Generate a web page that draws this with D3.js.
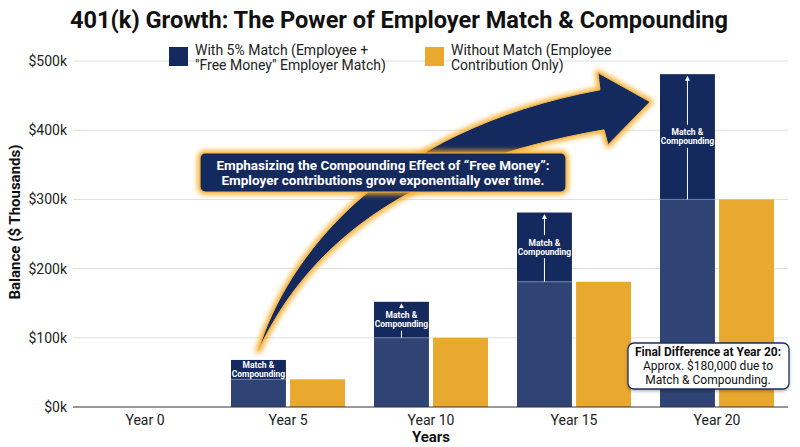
<!DOCTYPE html>
<html>
<head>
<meta charset="utf-8">
<script src="https://cdn.jsdelivr.net/npm/d3@7"></script>
<style>
  body { margin: 0; background: #fff; }
  text { font-family: Roboto, "Noto Sans", sans-serif; }
</style>
</head>
<body>
<div id="chart"></div>
<script>
// data ($ thousands)
var years = ["Year 0", "Year 5", "Year 10", "Year 15", "Year 20"];
var withMatch = [0, 68, 152, 281, 481];
var withoutMatch = [0, 40, 100, 181, 300];
var yTicks = [0, 100, 200, 300, 400, 500];
var seriesNames = ['With 5% Match (Employee +|"Free Money" Employer Match)', "Without Match (Employee|Contribution Only)"];

var width = 800, height = 447;
var navy = "#14295e", navyBase = "#2f4474", orange = "#e9a82e";

var svg = d3.select("#chart").append("svg")
  .attr("width", width)
  .attr("height", height);

var defs = svg.append("defs");
defs.append("filter").attr("id", "glow")
  .attr("x", "-20%").attr("y", "-20%").attr("width", "140%").attr("height", "140%")
  .append("feGaussianBlur").attr("stdDeviation", 2.5);
var shadow = defs.append("filter").attr("id", "shadow")
  .attr("x", "-20%").attr("y", "-20%").attr("width", "140%").attr("height", "150%");
shadow.append("feDropShadow").attr("dx", 0).attr("dy", 1.5).attr("stdDeviation", 1.5)
  .attr("flood-color", "#000").attr("flood-opacity", 0.3);
defs.append("marker").attr("id", "up")
  .attr("viewBox", "0 0 10 10").attr("refX", 5).attr("refY", 5)
  .attr("markerWidth", 5).attr("markerHeight", 5).attr("orient", "auto")
  .append("path").attr("d", "M0,0 L10,5 L0,10 Z").attr("fill", "#fff");

var x0 = d3.scaleBand().domain(years).range([73.5, 788.5]).padding(0);
var x1 = d3.scaleBand().domain([0, 1]).range([14.5, 128.5]).paddingInner(0.07);
var y = d3.scaleLinear().domain([0, 500]).range([407, 61]);

// title
svg.append("text")
  .attr("x", 399).attr("y", 28)
  .attr("text-anchor", "middle")
  .attr("font-size", 24).attr("font-weight", "bold")
  .attr("textLength", 658).attr("lengthAdjust", "spacingAndGlyphs")
  .attr("fill", "#111")
  .text("401(k) Growth: The Power of Employer Match & Compounding");

// gridlines + y labels
svg.append("g").selectAll("line").data(yTicks.filter(function(d){ return d > 0; }))
  .enter().append("line")
  .attr("x1", 73).attr("x2", 788)
  .attr("y1", function(d){ return y(d); }).attr("y2", function(d){ return y(d); })
  .attr("stroke", "#dedede").attr("stroke-width", 1);

svg.append("g").selectAll("text").data(yTicks)
  .enter().append("text")
  .attr("x", 67).attr("y", function(d){ return y(d); })
  .attr("dy", "0.35em").attr("text-anchor", "end")
  .attr("font-size", 14).attr("fill", "#222")
  .text(function(d){ return "$" + d + "k"; });

svg.append("text")
  .attr("transform", "translate(20,222) rotate(-90)")
  .attr("text-anchor", "middle")
  .attr("font-size", 15).attr("font-weight", "bold").attr("fill", "#111")
  .text("Balance ($ Thousands)");

// legend
var legend = svg.append("g");
[[169, navy], [425, orange]].forEach(function(l, i) {
  legend.append("rect").attr("x", l[0]).attr("y", 47).attr("width", 19).attr("height", 19).attr("fill", l[1]);
  var t = legend.append("text").attr("x", l[0] + 26).attr("y", 55).attr("font-size", 14).attr("fill", "#222");
  seriesNames[i].split("|").forEach(function(s, j) {
    t.append("tspan").attr("x", l[0] + 26).attr("dy", j ? 15 : 0).text(s);
  });
});

// big curved arrow (tail on Year 5 match bar, head pointing at Year 20)
var tx = x0("Year 5") + x1(0) + x1.bandwidth() / 2, ty = y(82);
var hx = x0("Year 20") + x1(0) - 10, hy = y(441);
var arrowPath = "M" + tx + "," + ty +
  " C" + (tx + 27) + "," + (ty - 90) + " " + (tx + 122) + "," + (ty - 220) + " " + (hx - 50) + "," + (hy - 12) +
  " L" + (hx - 52) + "," + (hy - 29) +
  " L" + hx + "," + hy +
  " L" + (hx - 42) + "," + (hy + 43) +
  " L" + (hx - 46) + "," + (hy + 28) +
  " C" + (hx - 250) + "," + (hy + 63) + " " + (tx + 47) + "," + (ty - 100) + " " + tx + "," + ty + " Z";
svg.append("path").attr("d", arrowPath)
  .attr("fill", "none").attr("stroke", "#f7a81b").attr("stroke-width", 6)
  .attr("stroke-linejoin", "round").attr("filter", "url(#glow)").attr("opacity", 0.9);
svg.append("path").attr("d", arrowPath)
  .attr("fill", navy).attr("stroke", "#f2b84b").attr("stroke-width", 1)
  .attr("stroke-linejoin", "round");

// bars
var groups = svg.append("g").selectAll("g").data(years)
  .enter().append("g")
  .attr("transform", function(d){ return "translate(" + x0(d) + ",0)"; });

groups.each(function(d, i) {
  var g = d3.select(this);
  var bx = x1(0), bw = x1.bandwidth();
  if (withMatch[i] > 0) {
    g.append("rect").attr("x", bx).attr("width", bw)
      .attr("y", y(withoutMatch[i])).attr("height", y(0) - y(withoutMatch[i]))
      .attr("fill", navyBase);
    g.append("rect").attr("x", bx).attr("width", bw)
      .attr("y", y(withMatch[i])).attr("height", y(withoutMatch[i]) - y(withMatch[i]))
      .attr("fill", navy);
    g.append("line").attr("x1", bx).attr("x2", bx + bw)
      .attr("y1", y(withoutMatch[i])).attr("y2", y(withoutMatch[i]))
      .attr("stroke", "#6f80a8").attr("stroke-width", 1);

    var top = y(withMatch[i]), base = y(withoutMatch[i]), mid = (top + base) / 2;
    var cx = bx + bw / 2;
    var lab = g.append("text").attr("x", cx).attr("text-anchor", "middle")
      .attr("font-size", 8.5).attr("font-weight", "bold").attr("fill", "#fff");
    lab.append("tspan").attr("x", cx).attr("y", mid - 1.5).text("Match &");
    lab.append("tspan").attr("x", cx).attr("y", mid + 7.5).text("Compounding");
    if (base - top > 30) {
      g.append("line").attr("x1", cx).attr("x2", cx)
        .attr("y1", mid - 12).attr("y2", top + 4)
        .attr("stroke", "#fff").attr("stroke-width", 1)
        .attr("marker-end", "url(#up)");
      g.append("line").attr("x1", cx).attr("x2", cx)
        .attr("y1", mid + 11).attr("y2", base)
        .attr("stroke", "#fff").attr("stroke-width", 1);
    }
  }
  if (withoutMatch[i] > 0) {
    g.append("rect").attr("x", x1(1)).attr("width", bw)
      .attr("y", y(withoutMatch[i])).attr("height", y(0) - y(withoutMatch[i]))
      .attr("fill", orange);
  }
});

// callout box over the arrow
var box = svg.append("g");
box.append("rect").attr("x", 200).attr("y", 153).attr("width", 366).attr("height", 39).attr("rx", 5)
  .attr("fill", "none").attr("stroke", "#f7a81b").attr("stroke-width", 5)
  .attr("filter", "url(#glow)");
box.append("rect").attr("x", 200).attr("y", 153).attr("width", 366).attr("height", 39).attr("rx", 5)
  .attr("fill", navy).attr("stroke", "#f2b84b").attr("stroke-width", 1.2);
var bt = box.append("text").attr("text-anchor", "middle")
  .attr("font-size", 13.5).attr("font-weight", "bold").attr("fill", "#fff");
bt.append("tspan").attr("x", 383).attr("y", 170).text("Emphasizing the Compounding Effect of \u201cFree Money\u201d:");
bt.append("tspan").attr("x", 383).attr("y", 185).text("Employer contributions grow exponentially over time.");

// x axis
svg.append("line").attr("x1", 73).attr("x2", 788).attr("y1", y(0)).attr("y2", y(0))
  .attr("stroke", "#333").attr("stroke-width", 1.2);
svg.append("g").selectAll("text").data(years)
  .enter().append("text")
  .attr("x", function(d){ return x0(d) + x0.bandwidth() / 2; })
  .attr("y", 425).attr("text-anchor", "middle")
  .attr("font-size", 14).attr("fill", "#222")
  .text(function(d){ return d; });
svg.append("text").attr("x", 431).attr("y", 442).attr("text-anchor", "middle")
  .attr("font-size", 15).attr("font-weight", "bold").attr("fill", "#111")
  .text("Years");

// final difference note
var note = svg.append("g");
note.append("rect").attr("x", 628).attr("y", 343).attr("width", 161).attr("height", 46).attr("rx", 6)
  .attr("fill", "#fff").attr("stroke", "#1c2f5e").attr("stroke-width", 1.3)
  .attr("filter", "url(#shadow)");
var nt = note.append("text").attr("text-anchor", "middle").attr("font-size", 12).attr("fill", "#111");
nt.append("tspan").attr("x", 708).attr("y", 356).attr("font-weight", "bold").text("Final Difference at Year 20:");
nt.append("tspan").attr("x", 708).attr("y", 370).text("Approx. $180,000 due to");
nt.append("tspan").attr("x", 708).attr("y", 384).text("Match & Compounding.");
</script>
</body>
</html>
